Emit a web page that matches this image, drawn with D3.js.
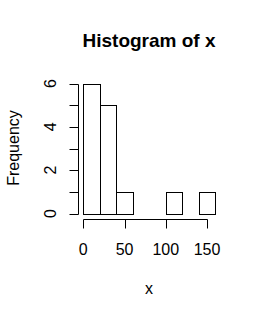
<!DOCTYPE html>
<html>
<head>
<meta charset="utf-8">
<script src="https://cdn.jsdelivr.net/npm/d3@7"></script>
<style>
  body { margin: 0; background: #fff; }
  svg text { font-family: "Liberation Sans", Arial, sans-serif; fill: #000; }
</style>
</head>
<body>
<div id="chart"></div>
<script>
// histogram bins (breaks) and counts per bin
const breaks = [0, 20, 40, 60, 80, 100, 120, 140, 160];
const counts = [6, 5, 1, 0, 0, 1, 0, 1];
const xTicks = [0, 50, 100, 150];
const yTicks = [0, 1, 2, 3, 4, 5, 6];
const yTickLabels = [0, 2, 4, 6];

const width = 261, height = 317;

const svg = d3.select("#chart").append("svg")
    .attr("width", width)
    .attr("height", height);

// plot region, R style (4% padding of the data range)
let x = d3.scaleLinear()
    .domain([-6.4, 166.4])
    .range([78, 220.6]);

let y = d3.scaleLinear()
    .domain([-0.24, 6.24])
    .range([218.7, 78.3]);

let bins = counts.map(function(c, i) {
    return {x0: breaks[i], x1: breaks[i + 1], count: c};
});

// bars
svg.append("g")
    .selectAll("rect")
    .data(bins)
    .enter()
    .append("rect")
    .attr("x", function(d) { return Math.round(x(d.x0)) + 0.5; })
    .attr("width", function(d) { return Math.round(x(d.x1)) - Math.round(x(d.x0)); })
    .attr("y", function(d) { return Math.round(y(d.count)) + 0.5; })
    .attr("height", function(d) { return Math.round(y(0)) - Math.round(y(d.count)); })
    .attr("fill", "none")
    .attr("stroke", "#000")
    .attr("stroke-width", 1);

// x axis
let xAxis = svg.append("g")
    .attr("transform", "translate(0," + (Math.round(y(-0.24)) + 0.5) + ")");

xAxis.append("line")
    .attr("x1", Math.round(x(xTicks[0])) + 0.5)
    .attr("x2", Math.round(x(xTicks[xTicks.length - 1])) + 0.5)
    .attr("stroke", "#000");

xAxis.selectAll(".tick")
    .data(xTicks)
    .enter()
    .append("line")
    .attr("x1", function(d) { return Math.round(x(d)) + 0.5; })
    .attr("x2", function(d) { return Math.round(x(d)) + 0.5; })
    .attr("y1", 0)
    .attr("y2", 9)
    .attr("stroke", "#000");

xAxis.selectAll("text")
    .data(xTicks)
    .enter()
    .append("text")
    .attr("x", function(d) { return x(d); })
    .attr("y", 35)
    .attr("text-anchor", "middle")
    .style("font-size", "16px")
    .text(function(d) { return d; });

// y axis
let yAxis = svg.append("g")
    .attr("transform", "translate(" + (Math.round(x(-6.4)) + 0.5) + ",0)");

yAxis.append("line")
    .attr("y1", Math.round(y(yTicks[0])) + 0.5)
    .attr("y2", Math.round(y(yTicks[yTicks.length - 1])) + 0.5)
    .attr("stroke", "#000");

yAxis.selectAll(".tick")
    .data(yTicks)
    .enter()
    .append("line")
    .attr("y1", function(d) { return Math.round(y(d)) + 0.5; })
    .attr("y2", function(d) { return Math.round(y(d)) + 0.5; })
    .attr("x1", 0)
    .attr("x2", -9)
    .attr("stroke", "#000");

yAxis.selectAll("text")
    .data(yTickLabels)
    .enter()
    .append("text")
    .attr("transform", function(d) { return "translate(-23," + y(d) + ") rotate(-90)"; })
    .attr("text-anchor", "middle")
    .style("font-size", "16px")
    .text(function(d) { return d; });

// title and axis labels
svg.append("text")
    .attr("x", 149)
    .attr("y", 47)
    .attr("text-anchor", "middle")
    .style("font-size", "19px")
    .style("font-weight", "bold")
    .text("Histogram of x");

svg.append("text")
    .attr("x", 149)
    .attr("y", 294)
    .attr("text-anchor", "middle")
    .style("font-size", "16px")
    .text("x");

svg.append("text")
    .attr("transform", "translate(19,148) rotate(-90)")
    .attr("text-anchor", "middle")
    .style("font-size", "16px")
    .text("Frequency");
</script>
</body>
</html>
